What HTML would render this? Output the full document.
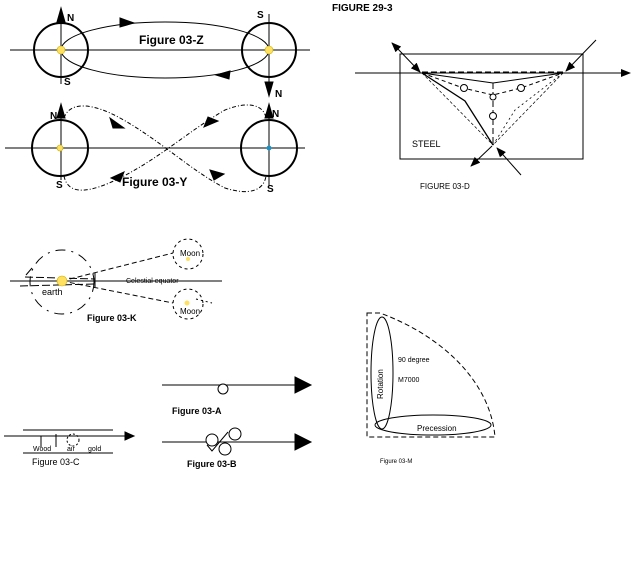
<!DOCTYPE html>
<html><head><style>body{margin:0;background:#fff}svg{display:block}text{font-family:"Liberation Sans",sans-serif}</style></head>
<body>
<svg width="640" height="566" viewBox="0 0 640 566" xmlns="http://www.w3.org/2000/svg">
<defs>
<marker id="ah" markerWidth="10" markerHeight="8" refX="9" refY="4" orient="auto" markerUnits="userSpaceOnUse"><path d="M0,0 L10,4 L0,8 Z" fill="#000"/></marker>
</defs>
<g fill="none" stroke="#000">
<!-- Figure Z -->
<line x1="10" y1="50" x2="310" y2="50" stroke-width="1"/>
<circle cx="61" cy="50" r="27" stroke-width="2"/>
<circle cx="269" cy="50" r="27" stroke-width="2"/>
<line x1="61" y1="8" x2="61" y2="84"/>
<line x1="269" y1="14" x2="269" y2="96"/>
<path d="M61,8 L57,22 L65,22 Z" fill="#000"/>
<path d="M269,96 L265,82 L273,82 Z" fill="#000"/>
<ellipse cx="165" cy="50" rx="104" ry="28"/>
<circle cx="61" cy="50" r="4" fill="#ffe060" stroke="#c8b000" stroke-width=".6"/>
<circle cx="269" cy="50" r="4" fill="#ffe060" stroke="#c8b000" stroke-width=".6"/>
<path d="M120,18 L134,23 L120,27 Z" fill="#000"/>
<path d="M230,71 L216,75 L229,79 Z" fill="#000"/>
<!-- Figure Y -->
<line x1="5" y1="148" x2="305" y2="148"/>
<circle cx="60" cy="148" r="28" stroke-width="2"/>
<circle cx="269" cy="148" r="28" stroke-width="2"/>
<line x1="61" y1="104" x2="61" y2="180"/>
<line x1="269" y1="104" x2="269" y2="186"/>
<path d="M61,104 L57,118 L65,118 Z" fill="#000"/>
<path d="M269,104 L265,118 L273,118 Z" fill="#000"/>
<path d="M64,118 C70,100 95,104 120,118 C160,140 190,170 225,188 C250,196 264,190 266,176" stroke-dasharray="4,2,1,2"/>
<path d="M64,176 C68,196 90,193 120,178 C160,158 190,130 225,110 C250,100 264,106 266,118" stroke-dasharray="4,2,1,2"/>
<circle cx="60" cy="148" r="3" fill="#ffe060" stroke="#c8b000" stroke-width=".6"/>
<circle cx="269" cy="148" r="2.5" fill="#2090c0" stroke="none"/>
<path d="M110,118 L124,128 L113,128 Z" fill="#000"/>
<path d="M218,121 L204,127 L208,117 Z" fill="#000"/>
<path d="M111,178 L124,172 L120,182 Z" fill="#000"/>
<path d="M224,174 L210,170 L214,180 Z" fill="#000"/>
<!-- Figure D -->
<rect x="400" y="54" width="183" height="105"/>
<line x1="355" y1="73" x2="630" y2="73" marker-end="url(#ah)"/>
<line x1="397" y1="48" x2="420" y2="72" marker-end="url(#ah)"/>
<line x1="396" y1="47" x2="392" y2="43" marker-end="url(#ah)"/>
<line x1="596" y1="40" x2="566" y2="71" marker-end="url(#ah)"/>
<line x1="492" y1="146" x2="471" y2="166" marker-end="url(#ah)"/>
<line x1="521" y1="175" x2="497" y2="148" marker-end="url(#ah)"/>
<line x1="422" y1="72" x2="563" y2="72" stroke-dasharray="6,3"/>
<path d="M422,73 L493,83 L563,73"/>
<path d="M422,73 L463,88 L493,95 L521,88 L563,73" stroke-dasharray="4,3"/>
<line x1="493" y1="83" x2="493" y2="145" stroke-dasharray="6,3"/>
<path d="M422,73 L465,101 L493,145" stroke-width="1.3"/>
<path d="M422,73 L493,145" stroke-dasharray="3,2" stroke-width=".7"/>
<path d="M563,73 L493,145" stroke-dasharray="3,2" stroke-width=".7"/>
<path d="M563,73 L515,110 L493,145" stroke-dasharray="2,3" stroke-width=".8"/>
<circle cx="464" cy="88" r="3.5" fill="#fff"/>
<circle cx="521" cy="88" r="3.5" fill="#fff"/>
<circle cx="493" cy="97" r="3" fill="#fff"/>
<circle cx="493" cy="116" r="3.5" fill="#fff"/>
<!-- Figure K -->
<line x1="10" y1="281" x2="222" y2="281"/>
<circle cx="62" cy="282" r="32" stroke-dasharray="10,6,2,6"/>
<circle cx="188" cy="254" r="15" stroke-dasharray="3,3"/>
<circle cx="188" cy="304" r="15" stroke-dasharray="3,3"/>
<path d="M62,281 L173,253 M62,281 L173,303" stroke-dasharray="5,3"/>
<path d="M25,277 L95,279 M20,286 L95,284" stroke-dasharray="8,3"/>
<line x1="95" y1="273" x2="95" y2="287"/>
<path d="M32,268 L26,275" />
<line x1="196" y1="299" x2="212" y2="303" stroke-dasharray="2,3"/>
<circle cx="62" cy="281" r="5" fill="#ffe060" stroke="#d0b000" stroke-width=".6"/>
<circle cx="188" cy="259" r="2" fill="#ffe060" stroke="none"/>
<circle cx="187" cy="303" r="2.5" fill="#ffe060" stroke="none"/>
<!-- Figure A -->
<line x1="162" y1="385" x2="310" y2="385" marker-end="url(#ah)"/>
<path d="M295,377 L311,385 L295,393 Z" fill="#000"/>
<circle cx="223" cy="389" r="5" fill="#fff"/>
<!-- Figure B -->
<line x1="162" y1="442" x2="310" y2="442"/>
<path d="M295,434 L311,442 L295,450 Z" fill="#000"/>
<path d="M207,445 L212,451 L228,432" />
<circle cx="212" cy="440" r="6" fill="#fff"/>
<circle cx="225" cy="449" r="6" fill="#fff"/>
<circle cx="235" cy="434" r="6" fill="#fff"/>
<!-- Figure C -->
<line x1="23" y1="430" x2="113" y2="430"/>
<line x1="4" y1="436" x2="128" y2="436"/>
<path d="M125,432 L134,436 L125,440 Z" fill="#000"/>
<line x1="23" y1="453" x2="113" y2="453"/>
<line x1="41" y1="436" x2="41" y2="447"/>
<line x1="56" y1="434" x2="56" y2="447"/>
<circle cx="73" cy="440" r="6" stroke-dasharray="2,2"/>
<!-- Figure M -->
<path d="M367,313 L380,313 C440,335 490,380 495,437 L367,437 Z" stroke-dasharray="5,3"/>
<ellipse cx="382" cy="373" rx="11" ry="56"/>
<ellipse cx="433" cy="425" rx="58" ry="10"/>
</g>
<g fill="#000">
<text x="67" y="21" font-size="10" font-weight="bold">N</text>
<text x="64" y="85" font-size="10" font-weight="bold">S</text>
<text x="257" y="18" font-size="10" font-weight="bold">S</text>
<text x="275" y="97" font-size="10" font-weight="bold">N</text>
<text x="139" y="44" font-size="12" font-weight="bold">Figure 03-Z</text>
<text x="50" y="119" font-size="10" font-weight="bold">N</text>
<text x="56" y="188" font-size="10" font-weight="bold">S</text>
<text x="272" y="117" font-size="10" font-weight="bold">N</text>
<text x="267" y="192" font-size="10" font-weight="bold">S</text>
<text x="122" y="186" font-size="12" font-weight="bold">Figure 03-Y</text>
<text x="332" y="11" font-size="10" font-weight="bold">FIGURE 29-3</text>
<text x="412" y="147" font-size="9">STEEL</text>
<text x="420" y="189" font-size="8">FIGURE 03-D</text>
<text x="180" y="256" font-size="8">Moon</text>
<text x="180" y="314" font-size="8">Moon</text>
<text x="126" y="283" font-size="7">Celestial equator</text>
<text x="42" y="295" font-size="9">earth</text>
<text x="87" y="321" font-size="9" font-weight="bold">Figure 03-K</text>
<text x="172" y="414" font-size="9" font-weight="bold">Figure 03-A</text>
<text x="187" y="467" font-size="9" font-weight="bold">Figure 03-B</text>
<text x="32" y="465" font-size="9">Figure 03-C</text>
<text x="33" y="451" font-size="7">Wood</text>
<text x="67" y="451" font-size="7">air</text>
<text x="88" y="451" font-size="7">gold</text>
<text x="398" y="362" font-size="7">90 degree</text>
<text x="398" y="382" font-size="7">M7000</text>
<text x="417" y="431" font-size="8">Precession</text>
<text x="380" y="463" font-size="6">Figure 03-M</text>
<text transform="translate(383,399) rotate(-90)" font-size="8">Rotation</text>
</g>
</svg>
</body></html>
